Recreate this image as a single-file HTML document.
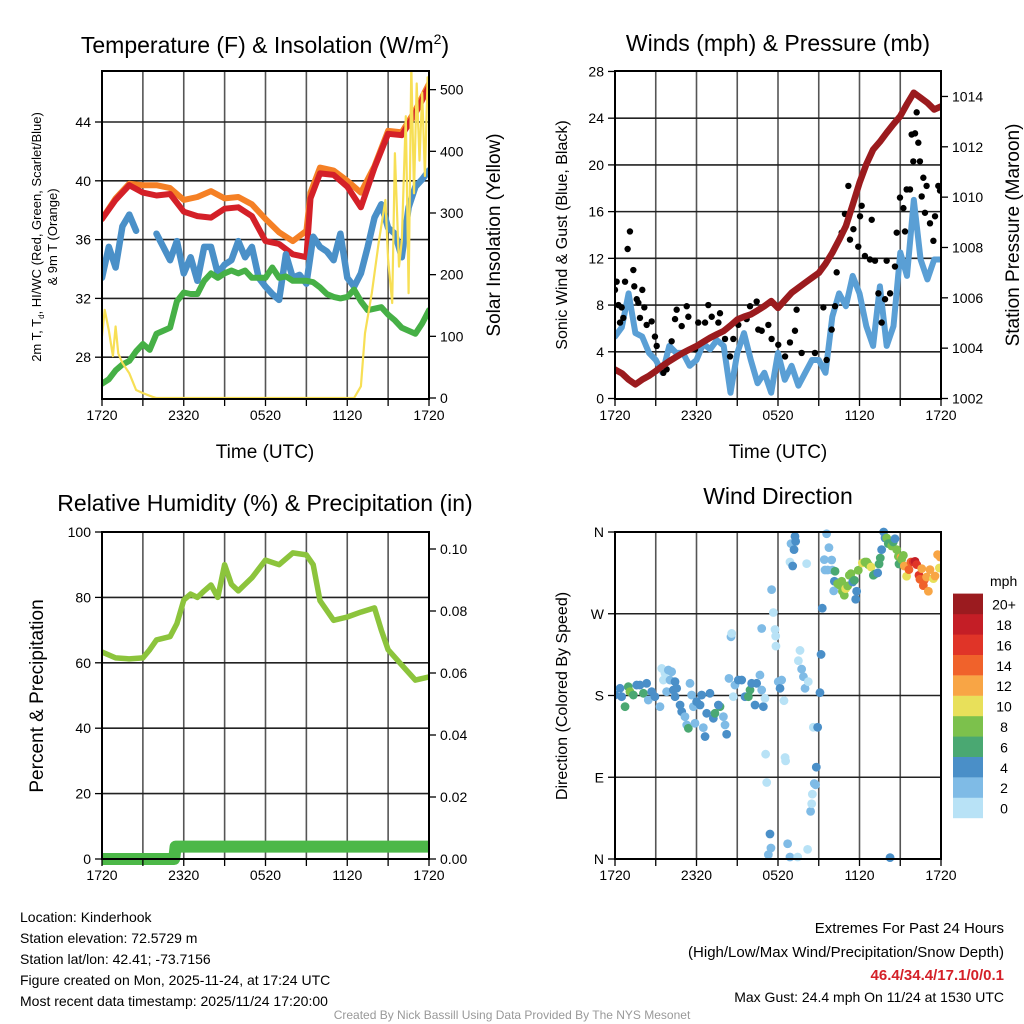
<!DOCTYPE html>
<html><head><meta charset="utf-8">
<style>
body{margin:0;background:#fff;}
svg{display:block;font-family:"Liberation Sans",sans-serif;}
</style></head>
<body>
<svg id="fig" width="1024" height="1024" viewBox="0 0 1024 1024">
<defs>
<clipPath id="c1"><rect x="102" y="71" width="327" height="328"/></clipPath>
<clipPath id="c2"><rect x="615" y="71" width="326" height="328"/></clipPath>
<clipPath id="c3"><rect x="102" y="532" width="327" height="333"/></clipPath>
<clipPath id="c4"><rect x="615" y="526" width="326" height="340"/></clipPath>
</defs>
<g id="grid"></g>
<g id="marks"></g>
<g id="frames"></g>
<g id="texts">
<text x="265" y="53" font-size="23" text-anchor="middle">Temperature (F) &amp; Insolation (W/m<tspan dy="-9" font-size="14">2</tspan><tspan dy="9">)</tspan></text>
<text x="778" y="51" font-size="23" text-anchor="middle">Winds (mph) &amp; Pressure (mb)</text>
<text x="265" y="511" font-size="23" text-anchor="middle">Relative Humidity (%) &amp; Precipitation (in)</text>
<text x="778" y="504" font-size="23" text-anchor="middle">Wind Direction</text>
<text x="265" y="458" font-size="19" text-anchor="middle">Time (UTC)</text>
<text x="778" y="458" font-size="19" text-anchor="middle">Time (UTC)</text>
<text transform="translate(41,237) rotate(-90)" font-size="13" text-anchor="middle">2m T, T<tspan font-size="8" dy="3">d</tspan><tspan dy="-3">, HI/WC (Red, Green, Scarlet/Blue)</tspan></text>
<text transform="translate(57,237) rotate(-90)" font-size="13" text-anchor="middle">&amp; 9m T (Orange)</text>
<text transform="translate(500,235) rotate(-90)" font-size="19" text-anchor="middle">Solar Insolation (Yellow)</text>
<text transform="translate(567,235) rotate(-90)" font-size="16" text-anchor="middle">Sonic Wind &amp; Gust (Blue, Black)</text>
<text transform="translate(1019,235) rotate(-90)" font-size="19" text-anchor="middle">Station Pressure (Maroon)</text>
<text transform="translate(43,696) rotate(-90)" font-size="19" text-anchor="middle">Percent &amp; Precipitation</text>
<text transform="translate(567,696) rotate(-90)" font-size="16" text-anchor="middle">Direction (Colored By Speed)</text>
<g font-size="14">
<text x="20" y="922">Location: Kinderhook</text>
<text x="20" y="943">Station elevation: 72.5729 m</text>
<text x="20" y="964">Station lat/lon: 42.41; -73.7156</text>
<text x="20" y="985">Figure created on Mon, 2025-11-24, at 17:24 UTC</text>
<text x="20" y="1006">Most recent data timestamp: 2025/11/24 17:20:00</text>
</g>
<g font-size="15" text-anchor="end">
<text x="1004" y="933">Extremes For Past 24 Hours</text>
<text x="1004" y="957">(High/Low/Max Wind/Precipitation/Snow Depth)</text>
<text x="1004" y="980" fill="#d42028" font-weight="bold">46.4/34.4/17.1/0/0.1</text>
<text x="1004" y="1002" font-size="14">Max Gust: 24.4 mph On 11/24 at 1530 UTC</text>
</g>
<text x="512" y="1019" font-size="12" fill="#999" text-anchor="middle">Created By Nick Bassill Using Data Provided By The NYS Mesonet</text>
<text x="990" y="586" font-size="14">mph</text>
</g>
<g id="cbar"></g>
</svg>
<script>
// ---------- data ----------
const hoursHalf = [0,0.5,1,1.5,2,2.5,3,3.5,4,4.5,5,5.5,6,6.5,7,7.5,8,8.5,9,9.5,10,10.5,11,11.5,12,12.5,13,13.5,14,14.5,15,15.5,16,16.5,17,17.5,18,18.5,19,19.5,20,20.5,21,21.5,22,22.5,23,23.5,24];
const hoursHour = [0,1,2,3,4,5,6,7,8,9,10,11,12,13,14,15,15.3,16,17,18,19,20,21,22,23,24];
const temp2m = [37.4,38.7,39.7,39.2,39.0,39.1,37.9,37.6,37.5,38.1,38.2,37.6,35.9,35.7,35.0,34.8,38.8,40.5,40.4,39.6,38.2,40.9,43.2,43.1,44.6,46.4];
const temp9m = [37.4,38.8,39.8,39.7,39.7,39.5,38.7,38.9,39.3,38.8,38.9,38.4,37.4,36.5,35.9,36.6,39.2,40.9,40.7,40.0,39.2,41.0,43.4,43.3,44.8,46.6];
const hiwc = [33.4,35.5,34.1,36.9,37.7,36.6,null,null,36.4,35.5,34.6,35.9,33.7,34.8,33.2,35.5,35.5,33.7,34.3,34.6,35.9,34.8,35.5,33.4,32.8,32.3,31.9,35.0,33.4,33.6,33.0,36.2,35.5,35.2,34.6,36.4,33.4,32.8,33.7,35.5,37.5,38.4,36.8,36.4,34.8,38.2,39.6,40.1,40.7];
const dewpt = [26.2,26.5,27.1,27.5,27.75,28.4,28.9,28.5,29.6,29.8,30.0,31.8,32.4,32.3,32.3,33.2,33.7,33.4,33.7,33.9,33.7,33.9,33.4,33.4,33.4,34.1,33.4,33.5,33.2,33.2,33.2,33.1,32.75,32.3,32.1,32.0,32.1,32.6,31.8,31.2,31.3,31.4,30.9,30.5,30.0,29.8,29.6,30.3,31.2];
const solarHours = [0,0.2,0.5,0.8,1,1.2,1.5,2,2.5,3,3.7,4,18.5,19,19.3,19.8,20.3,20.8,21,21.3,21.5,21.8,22,22.3,22.5,22.7,22.9,23.1,23.3,23.5,23.7,23.9,24];
const solar = [100,143,110,68,116,72,57,40,13,8,2,0,0,19,105,170,251,321,225,154,397,213,255,457,170,540,332,510,385,495,360,520,495];
const windHours = hoursHalf;
const sonicWind = [5.3,6.1,9.0,5.6,5.3,3.9,3.3,2.2,4.5,3.9,3.9,2.8,3.3,4.7,4.2,5.0,4.5,0.5,3.9,5.6,3.3,1.3,2.2,0.5,3.9,1.6,2.8,1.1,2.2,3.3,3.3,2.2,7.0,9.0,7.9,10.5,9.0,6.2,4.5,9.6,4.5,6.2,12.5,10.5,17.0,11.9,10.2,11.9,11.9];
const pressure = [1003.15,1003.0,1002.75,1002.56,1002.75,1002.9,1003.09,1003.3,1003.48,1003.65,1003.81,1003.95,1004.08,1004.25,1004.41,1004.55,1004.68,1004.9,1005.14,1005.25,1005.34,1005.5,1005.67,1005.87,1005.6,1005.9,1006.2,1006.4,1006.6,1006.8,1006.99,1007.35,1007.79,1008.3,1008.85,1009.7,1010.57,1011.3,1011.89,1012.2,1012.56,1012.9,1013.22,1013.7,1014.15,1013.95,1013.75,1013.48,1013.6];
const gustHours = [0,0.12,0.25,0.37,0.49,0.61,0.74,0.93,1.10,1.35,1.42,1.6,1.72,1.84,2.01,2.16,2.33,2.70,2.94,3.07,3.56,3.80,4.17,4.42,4.54,4.91,5.28,5.40,5.89,6.13,6.63,6.87,7.12,7.61,7.73,8.1,8.47,8.71,9.08,9.69,9.94,10.43,10.55,10.8,11.29,11.53,12.02,12.52,12.88,13.25,13.37,13.74,14.72,15.34,15.58,15.95,16.2,16.32,16.69,16.93,17.18,17.3,17.55,17.91,18.04,18.16,18.4,18.77,18.9,19.14,19.39,19.63,19.88,20.0,20.25,20.61,20.74,20.98,21.23,21.35,21.47,21.72,21.84,21.96,22.09,22.21,22.33,22.45,22.58,22.7,22.82,22.94,23.19,23.44,23.56,23.8,23.93];
const gust = [9.3,10.0,8.0,6.5,7.8,6.9,10.0,12.8,14.3,11.0,9.6,8.5,8.2,6.9,9.3,7.8,6.3,6.6,5.3,4.5,2.2,2.5,4.9,6.8,7.6,6.2,7.9,7.0,4.2,6.5,6.5,8.0,7.0,6.5,7.3,5.1,3.6,5.1,6.3,6.8,7.9,8.3,5.9,5.8,6.3,5.1,4.6,3.6,4.8,5.8,7.6,3.9,3.9,7.8,3.3,5.9,7.9,10.8,14.2,15.8,18.2,13.6,14.5,13.0,15.6,16.5,12.2,11.9,15.3,11.8,9.0,6.5,8.5,11.8,9.0,11.3,14.2,17.2,16.3,14.3,17.9,17.9,22.6,20.3,22.7,24.5,21.9,20.3,17.3,18.9,15.9,18.2,15.0,13.5,15.6,18.2,17.8];
const rhHours = [0,1,2,3,3.5,4,5,5.5,6,6.5,7,7.5,8,8.5,9,9.5,10,10.5,11,12,13,14,15,15.5,16,17,18,19,20,20.5,21,22,23,24];
const rh = [63.3,61.5,61.2,61.5,64,67,68,72,79.2,81,80,82,83.8,80,90,84,82,84,86,91.4,90,93.6,93,90,79,73,74,75.5,76.8,70,64,59.3,54.7,55.7];
const precipHours = [0,5.3,5.4,24];
const precip = [0,0,0.004,0.004];
const dirHours = [0,0.37,0.49,0.74,0.98,1.10,1.35,1.60,1.84,2.09,2.33,2.45,2.70,2.94,3.31,3.44,3.56,3.68,3.93,4.05,4.17,3.80,4.29,4.42,4.54,4.42,4.79,4.91,5.15,5.28,5.40,5.52,5.64,5.77,5.89,6.01,6.26,6.38,6.50,6.63,6.75,6.99,7.24,7.36,7.73,7.61,7.98,8.10,8.22,8.39,8.54,8.59,8.71,8.83,9.08,9.33,9.57,9.82,9.94,10.06,10.31,10.43,10.67,10.80,10.92,11.04,10.80,11.09,11.17,11.29,11.41,11.48,11.53,11.66,11.78,11.83,11.85,12.02,12.15,12.27,12.44,12.52,12.56,12.71,12.88,12.88,12.96,13.08,13.18,13.25,13.30,13.45,13.62,13.50,13.74,13.87,13.99,14.11,14.18,14.23,14.40,14.48,14.53,14.60,14.67,14.77,14.82,14.92,15.09,15.17,15.26,15.41,15.58,15.75,15.46,15.66,15.95,16.00,16.15,16.20,16.10,16.39,16.56,16.69,16.74,16.88,16.98,17.13,17.25,17.37,17.50,17.62,17.72,17.79,17.91,18.21,18.40,18.53,18.65,18.85,19.02,19.14,19.34,19.44,19.53,19.63,19.78,19.88,20.00,20.12,20.27,20.37,20.49,20.61,20.74,20.86,20.91,21.06,21.10,21.23,21.30,21.47,21.64,21.79,21.96,22.09,22.21,22.38,22.45,22.58,22.70,22.77,22.94,23.07,23.19,23.44,23.56,23.75,23.88,23.93,20.25];
const dirDeg = [180.5,187.9,178.7,167.7,189.7,184.2,180.5,191.5,191.5,182.4,193.4,175,184.2,178.7,167.7,209.8,197,204.3,208,197,206.2,184.2,186,178.7,187.9,195.2,169.5,162.2,156.7,147.6,143.9,193.4,180.5,167.7,149.4,173.2,169.5,180.5,144.6,134.8,160.4,182.4,154.9,160.4,167.7,169.5,156.7,147.6,137.3,198.8,244.6,248.3,178.7,191.5,197,197,178.7,178.7,186,193.4,169.5,193.4,202.5,186,167.7,176.9,253.8,115.4,84.2,4.8,27.5,12.1,296.6,271.4,252.7,245.4,234.4,195.2,187.9,197,174.3,111.7,108,16.8,2.2,327,347.2,322.6,340.6,355.2,349.7,2.2,229.6,218.3,209.1,200.7,187.9,325.2,10.6,195.2,52.4,60.8,71.4,145,83.1,81.7,101.1,145,183.1,225.2,276.1,329.6,358.1,342.8,318.2,318.2,329.2,318.2,305.8,316.8,295.2,303.2,301.4,305.8,294.8,290.4,297.7,300.7,312.4,314.2,305,306.9,286,294.8,317.9,325.9,327,327,324.1,321.5,312.4,313.8,315,324.8,331.4,340.6,360,353.4,353.4,347.2,347.2,344.6,349,352.6,340.6,333.2,324.8,332.1,329.9,334.3,322.6,311.3,318.6,327,327,327.7,324.1,312.4,308,319.7,301,307.2,310.5,294.8,318.6,308.7,311.6,335.1,320.4,332.5,1.5];
const dirSpeed = [5,5,5,7,7,9,7,5,5,7,5,3,5,5,3,1,1,1,3,3,3,3,5,5,5,5,5,5,3,3,7,3,3,3,3,5,5,5,3,5,5,5,5,7,7,5,3,3,5,3,3,1,1,3,5,5,5,7,7,5,5,5,3,3,5,1,3,1,1,3,5,3,3,1,1,1,1,3,5,3,1,1,1,3,3,1,3,5,5,5,5,1,1,1,3,3,3,1,1,1,3,1,1,1,3,3,5,5,5,5,5,3,3,3,3,3,3,3,5,7,3,9,9,9,9,9,11,9,9,9,5,7,5,5,9,11,9,9,9,11,7,7,5,7,7,5,5,5,9,7,7,9,7,5,9,9,7,13,9,9,13,11,15,15,17,19,17,17,15,13,15,15,13,13,13,11,13,13,11,13,5];
const timeTickLabels = ["1720","2320","0520","1120","1720"];
const tempTicks = [28,32,36,40,44];
const solarTicks = [0,100,200,300,400,500];
const windTicks = [0,4,8,12,16,20,24,28];
const pressTicks = [1002,1004,1006,1008,1010,1012,1014];
const rhTicks = [0,20,40,60,80,100];
const precipTicks = [0,0.02,0.04,0.06,0.08,0.10];
const dirTicks = [0,90,180,270,360];
const dirTickLabels = ["N","E","S","W","N"];
const speedBins = [0,2,4,6,8,10,12,14,16,18,20];
const speedBinLabels = ["0","2","4","6","8","10","12","14","16","18","20+"];
const speedColors = ["#b8e2f6","#7fbbe6","#4a8fc8","#4aa872","#7cc14c","#e8e05a","#f8a545","#f0622b","#e03428","#c41e26","#9b1b1f"];

// ---------- scales ----------
const xL = t => 102 + t*327/24;
const xR = t => 615 + t*326/24;
const yT = v => 122 + (44-v)*14.7;
const yS = v => 398 - v*0.6167;
const yW = v => 398.5 - v*11.68;
const yP = v => 398.5 - (v-1002)*25.17;
const yRH = v => 859 - v*3.27;
const yPr = v => 859 - v*3100;
const yD = d => 859 - d*327/360;

const NS = "http://www.w3.org/2000/svg";
function mk(tag, parent, attrs){ const e=document.createElementNS(NS,tag); for(const k in attrs) e.setAttribute(k,attrs[k]); parent.appendChild(e); return e; }
const G = document.getElementById('grid'), M = document.getElementById('marks'), F = document.getElementById('frames'), TX = document.getElementById('texts');

function panelGrid(x0,y0,w,h,hLines){
  for(let i=0;i<=8;i++){ const x=x0+w*i/8;
    const l=mk('line',G,{x1:x,x2:x,y1:y0,y2:y0+h,stroke:'#555','stroke-width':1.6});
    
    
    const tk=mk('line',F,{x1:x,x2:x,y1:y0+h,y2:y0+h+7,stroke:'#000','stroke-width':1.3});
    
    
  }
  hLines.forEach(y=>{ const l=mk('line',G,{x1:x0,x2:x0+w,y1:y,y2:y,stroke:'#222','stroke-width':1.6});
    
     });
  const r=mk('rect',F,{x:x0,y:y0,width:w,height:h,fill:'none',stroke:'#000','stroke-width':2});
  
  
  timeTickLabels.forEach((s,i)=>{ const t=mk('text',TX,{x:x0+w*i/4,y:y0+h+21,'font-size':14,'text-anchor':'middle'}); t.textContent=s;
    
     });
}
function yTicks(vals, fn, x, side, labels, fmt){
  vals.forEach((v,i)=>{ const y=fn(v);
    const tk=mk('line',F,{x1:x,x2:x+(side<0?-7:7),y1:y,y2:y,stroke:'#000','stroke-width':1.3});
    
    
    const t=mk('text',TX,{x:x+(side<0?-11:11),y:y+5,'font-size':14,'text-anchor':side<0?'end':'start'});
    t.textContent = labels? labels[i] : (fmt?fmt(v):String(v));
    
    
  });
}
function line(xs,ys,xf,yf,color,w,clip,name){
  let d='',pen=false;
  xs.forEach((t,i)=>{ const v=ys[i]; if(v===null){pen=false;return;} d+=(pen?'L':'M')+xf(t).toFixed(1)+','+yf(v).toFixed(1); pen=true; });
  const p=mk('path',M,{d:d,fill:'none',stroke:color,'stroke-width':w,'stroke-linejoin':'round','stroke-linecap':'round','clip-path':'url(#'+clip+')'});
  
  
  return p;
}

// grids
panelGrid(102,71,327,328,tempTicks.map(yT));
panelGrid(615,71,326,328,windTicks.filter(v=>v>0&&v<28).map(yW));
panelGrid(102,532,327,327,rhTicks.filter(v=>v>0&&v<100).map(yRH));
panelGrid(615,532,326,327,[90,180,270].map(yD));

// y ticks
yTicks(tempTicks,yT,102,-1);
yTicks(solarTicks,yS,429,1);
yTicks(windTicks,yW,615,-1);
yTicks(pressTicks,yP,941,1);
yTicks(rhTicks,yRH,102,-1);
yTicks(precipTicks,yPr,429,1,null,v=>v.toFixed(2));
yTicks(dirTicks,yD,615,-1,dirTickLabels);

// panel 1
line(hoursHour,temp9m,xL,yT,'#f58025',6,'c1','temp-9m-line');
line(hoursHour,temp2m,xL,yT,'#d42028',6,'c1','temp-2m-line');
line(hoursHalf,hiwc,xL,yT,'#4a90c8',6.5,'c1','heat-index-windchill-line');
line(hoursHalf,dewpt,xL,yT,'#46b046',6,'c1','dewpoint-line');
line(solarHours,solar,xL,yS,'#f7df55',2.2,'c1','solar-insolation-line');

// panel 2
line(windHours,sonicWind,xR,yW,'#5a9fd5',6,'c2','sonic-wind-line');
gustHours.forEach((t,i)=>{ const c=mk('circle',M,{cx:xR(t),cy:yW(gust[i]),r:3.2,fill:'#000','clip-path':'url(#c2)'});
  
   });
line(windHours,pressure,xR,yP,'#9b1b1e',6.5,'c2','pressure-line');

// panel 3
line(rhHours,rh,xL,yRH,'#8cc43c',5.5,'c3','relative-humidity-line');
line(precipHours,precip,xL,yPr,'#4cb848',12,'c3','precipitation-line');

// panel 4
function speedColor(s){ let k=0; for(let i=0;i<speedBins.length;i++) if(s>=speedBins[i]) k=i; return speedColors[k]; }
dirHours.forEach((t,i)=>{ const c=mk('circle',M,{cx:xR(t),cy:yD(dirDeg[i]),r:4.4,fill:speedColor(dirSpeed[i]),'clip-path':'url(#c4)'});
  
   });

// colorbar
const CB=document.getElementById('cbar');
speedColors.forEach((col,i)=>{ const y=818-(i+1)*20.4;
  const r=mk('rect',CB,{x:953,y:y,width:30,height:20.6,fill:col});
  
  
  const t=mk('text',CB,{x:1004,y:y+16,'font-size':14,'text-anchor':'middle'}); t.textContent=speedBinLabels[i];
  
  
});
</script>
</body></html>
